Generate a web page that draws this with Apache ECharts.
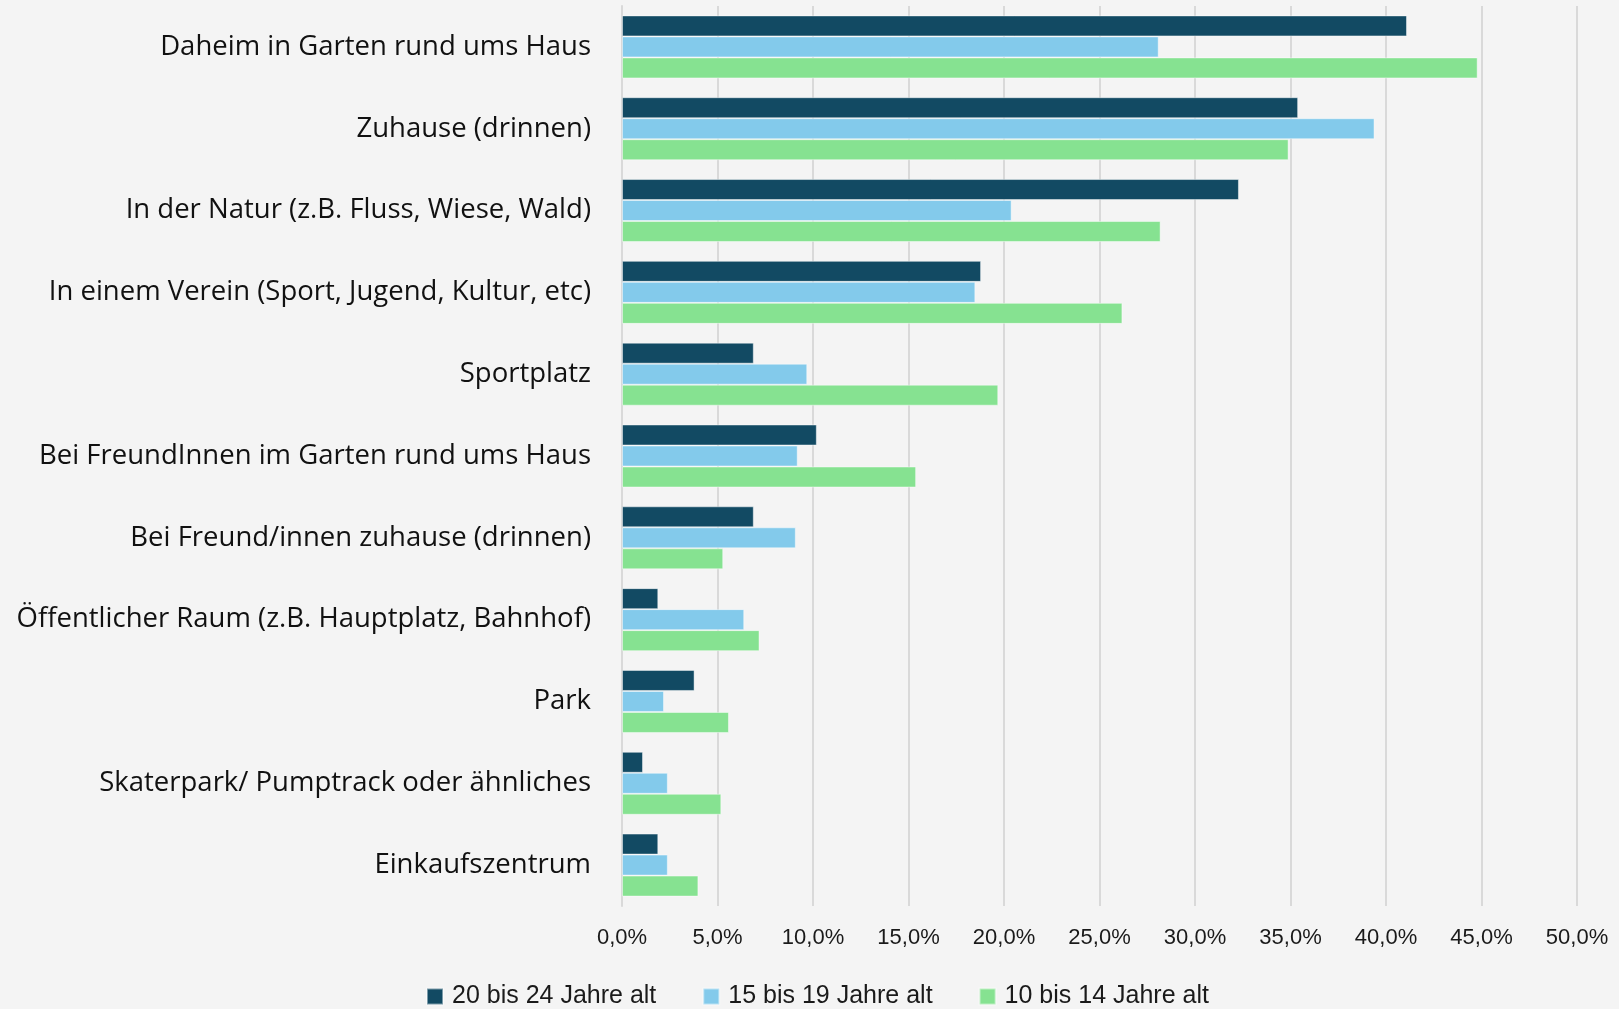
<!DOCTYPE html>
<html>
<head>
<meta charset="utf-8">
<script src="https://cdn.jsdelivr.net/npm/echarts@6/dist/echarts.min.js"></script>
<style>
html,body{margin:0;padding:0;background:#f4f4f4;}
#c{width:1619px;height:1009px;}
</style>
</head>
<body>
<div id="c"></div>
<script>
const categories = [
  'Daheim in Garten rund ums Haus',
  'Zuhause (drinnen)',
  'In der Natur (z.B. Fluss, Wiese, Wald)',
  'In einem Verein (Sport, Jugend, Kultur, etc)',
  'Sportplatz',
  'Bei FreundInnen im Garten rund ums Haus',
  'Bei Freund/innen zuhause (drinnen)',
  'Öffentlicher Raum (z.B. Hauptplatz, Bahnhof)',
  'Park',
  'Skaterpark/ Pumptrack oder ähnliches',
  'Einkaufszentrum'
];
const seriesNames = ['20 bis 24 Jahre alt', '15 bis 19 Jahre alt', '10 bis 14 Jahre alt'];
const age20to24 = [41.1, 35.4, 32.3, 18.8, 6.9, 10.2, 6.9, 1.9, 3.8, 1.1, 1.9];
const age15to19 = [28.1, 39.4, 20.4, 18.5, 9.7, 9.2, 9.1, 6.4, 2.2, 2.4, 2.4];
const age10to14 = [44.8, 34.9, 28.2, 26.2, 19.7, 15.4, 5.3, 7.2, 5.6, 5.2, 4.0];
const xTicks = { min: 0, max: 50, interval: 5 };

const colors = ['#124a63', '#83caeb', '#86e291'];
const chart = echarts.init(document.getElementById('c'));
const narrow = '"Liberation Sans Narrow", "Arial Narrow", "Liberation Sans", sans-serif';
const mk = (name, data, i) => ({
  name, type: 'bar', data,
  barWidth: 21, barGap: '0%',
  itemStyle: { color: colors[i], borderColor: 'rgba(255,255,255,0.45)', borderWidth: 1 },
  emphasis: { disabled: true }
});
chart.setOption({
  backgroundColor: '#f4f4f4',
  animation: false,
  grid: { left: 622, right: 42, top: 6, height: 900, containLabel: false },
  legend: {
    data: seriesNames,
    left: 421, top: 979,
    itemWidth: 16, itemHeight: 16, itemGap: 46,
    icon: 'rect',
    textStyle: { fontFamily: narrow, fontSize: 25, color: '#1a1a1a', padding: [0, 0, 0, 4] }
  },
  xAxis: {
    type: 'value', min: xTicks.min, max: xTicks.max, interval: xTicks.interval,
    axisLine: { show: false }, axisTick: { show: false },
    splitLine: { show: true, lineStyle: { color: '#d9d9d9', width: 2 } },
    axisLabel: {
      margin: 21, fontFamily: narrow, fontSize: 22, color: '#1a1a1a',
      formatter: v => v.toFixed(1).replace('.', ',') + '%'
    }
  },
  yAxis: {
    type: 'category', data: categories, inverse: true,
    axisLine: { show: true, lineStyle: { color: '#d9d9d9', width: 2 } },
    axisTick: { show: false },
    axisLabel: { margin: 31, fontFamily: '"Open Sans", sans-serif', fontSize: 27.5, color: '#111', padding: [4, 0, 0, 0] }
  },
  series: [
    mk(seriesNames[0], age20to24, 0),
    mk(seriesNames[1], age15to19, 1),
    mk(seriesNames[2], age10to14, 2)
  ]
});
</script>
</body>
</html>
